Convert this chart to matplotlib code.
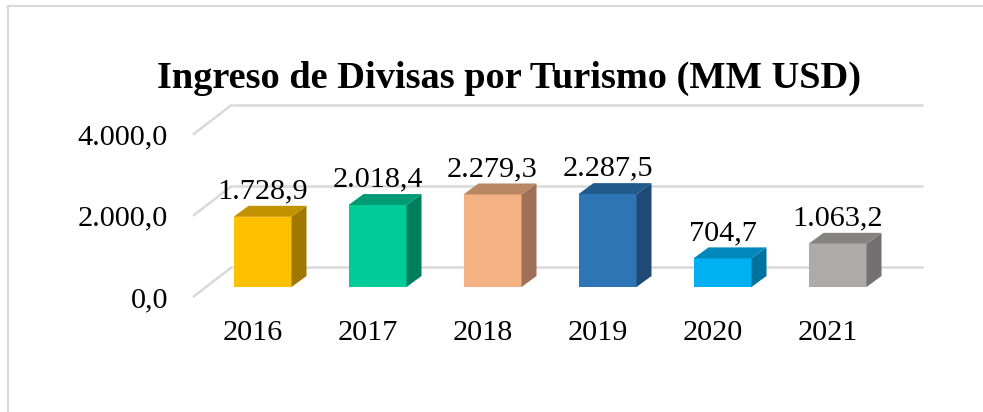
import matplotlib
matplotlib.use("Agg")
import matplotlib.pyplot as plt
from matplotlib.patches import Polygon
from matplotlib.lines import Line2D

# ---------------- data ----------------
years = ["2016", "2017", "2018", "2019", "2020", "2021"]
values = [1728.9, 2018.4, 2279.3, 2287.5, 704.7, 1063.2]
value_labels = ["1.728,9", "2.018,4", "2.279,3", "2.287,5", "704,7", "1.063,2"]
tick_values = [0, 2000, 4000]
tick_labels = ["0,0", "2.000,0", "4.000,0"]
title = "Ingreso de Divisas por Turismo (MM USD)"

front_colors = ["#FFC000", "#00CC99", "#F4B183", "#2E75B6", "#00B0F0", "#AEAAAA"]
top_colors = ["#C39200", "#009B74", "#BA8763", "#235A8C", "#0088BA", "#858282"]
side_colors = ["#A07800", "#007F5F", "#9E7156", "#1E4A75", "#00729E", "#727070"]

# ---------------- layout ----------------
W, H = 983, 412
fig = plt.figure(figsize=(W / 100, H / 100), dpi=100)
ax = fig.add_axes([0, 0, 1, 1])

CAT_PX = 115.0          # pixels per category
VAL_PX = 40.6 / 1000.0  # pixels per value unit
X0_PX = 262.5           # pixel x of first category center
Y0_PX = 287.0           # pixel y (from top) of value 0 on bar front plane

ax.set_xlim(-X0_PX / CAT_PX, (W - X0_PX) / CAT_PX)
ax.set_ylim(-(H - Y0_PX) / VAL_PX, Y0_PX / VAL_PX)
ax.axis("off")


def dx(p):
    return p / CAT_PX


def dy(p):
    return p / VAL_PX


grid_color = "#D9D9D9"
serif = ["Liberation Serif", "DejaVu Serif"]
FS = 21.8

# gridlines (back wall + side wall diagonals)
xb0 = dx(232 - X0_PX)
xb1 = dx(923 - X0_PX)
xf = dx(193 - X0_PX)
back_off = dy(20)
front_off = -dy(10)
for t, lab in zip(tick_values, tick_labels):
    ax.plot([xb0, xb1], [t + back_off] * 2, color=grid_color, lw=1.8,
            zorder=1, solid_capstyle="butt")
    ax.plot([xf, xb0], [t + front_off, t + back_off], color=grid_color,
            lw=1.8, zorder=1, solid_capstyle="butt")
    ax.text(dx(168 - X0_PX), t + front_off - dy(10), lab, ha="right",
            va="baseline", fontsize=FS, family=serif, color="black")

# 3D bars
bw = 58 / CAT_PX
ddx, ddy = dx(15), dy(11)
xs = list(range(len(years)))
ax.bar(xs, values, width=bw, color=front_colors, zorder=3, linewidth=0)
for i, v in enumerate(values):
    xl, xr = i - bw / 2, i + bw / 2
    side = Polygon([(xr, 0), (xr + ddx, ddy), (xr + ddx, v + ddy), (xr, v)],
                   closed=True, facecolor=side_colors[i], edgecolor="none",
                   zorder=3)
    top = Polygon([(xl, v), (xr, v), (xr + ddx, v + ddy), (xl + ddx, v + ddy)],
                  closed=True, facecolor=top_colors[i], edgecolor="none",
                  zorder=3)
    ax.add_patch(side)
    ax.add_patch(top)
    ax.text(i, v + ddy + dy(7.5), value_labels[i], ha="center", va="baseline",
            fontsize=FS, family=serif, color="black", zorder=4)
    ax.text(i - dx(10), -dy(53), years[i], ha="center", va="baseline",
            fontsize=FS, family=serif, color="black")

# title
fig.text(509 / W, 1 - 88 / H, title, ha="center", va="baseline",
         fontsize=27.6, fontweight="bold", family=serif, color="black")

# chart border (partially visible)
fig.add_artist(Line2D([8 / W, 1], [1 - 6 / H, 1 - 6 / H], color=grid_color,
                      lw=1.5, transform=fig.transFigure))
fig.add_artist(Line2D([8 / W, 8 / W], [1 - 6 / H, 0], color=grid_color,
                      lw=1.5, transform=fig.transFigure))

fig.savefig("out.png", dpi=100, facecolor="white")
